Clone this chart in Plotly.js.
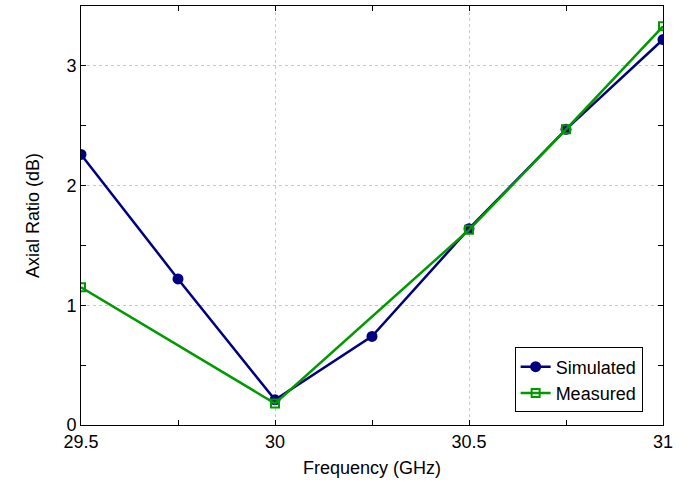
<!DOCTYPE html>
<html><head><meta charset="utf-8">
<script src="https://cdn.plot.ly/plotly-3.0.1.min.js"></script>
<style>html,body{margin:0;padding:0;background:#fff}#chart{width:691px;height:488px}</style>
</head><body><div id="chart"></div>
<script>
const simFreq = [29.5, 29.75, 30, 30.25, 30.5, 30.75, 31];
const simAR = [2.26, 1.22, 0.21, 0.74, 1.64, 2.47, 3.22];
const measFreq = [29.5, 30, 30.5, 30.75, 31];
const measAR = [1.15, 0.18, 1.63, 2.47, 3.33];

const font = {family: 'Liberation Sans, Arial, sans-serif', size: 18, color: '#000'};
const traces = [
  {x: simFreq, y: simAR, name: 'Simulated', mode: 'lines+markers', type: 'scatter',
   line: {color: '#000080', width: 2.5}, marker: {symbol: 'circle', size: 11, color: '#000080'}},
  {x: measFreq, y: measAR, name: 'Measured', mode: 'lines+markers', type: 'scatter',
   line: {color: '#009900', width: 2.5}, marker: {symbol: 'square-open', size: 8, color: '#009900', line: {width: 2, color: '#009900'}}}
];
const axisCommon = {showline: true, linecolor: '#000', linewidth: 1, mirror: 'ticks', ticks: 'inside', ticklen: 5, tickcolor: '#000',
  showgrid: true, gridcolor: '#c8c8c8', griddash: 'dot', gridwidth: 1, zeroline: false, tickfont: font};
const layout = {
  width: 691, height: 488, paper_bgcolor: '#fff', plot_bgcolor: '#fff',
  margin: {l: 81, r: 28, t: 6, b: 63},
  font: font,
  xaxis: Object.assign({}, axisCommon, {range: [29.5, 31], tickvals: [29.5, 30, 30.5, 31], ticktext: ['29.5', '30', '30.5', '31'],
    minor: {tickvals: [29.75, 30.25, 30.75], ticks: 'inside', ticklen: 5, tickcolor: '#000', showgrid: false},
    title: {text: 'Frequency (GHz)', font: font, standoff: 10}}),
  yaxis: Object.assign({}, axisCommon, {range: [0, 3.5], tickvals: [0, 1, 2, 3],
    minor: {tickvals: [0.5, 1.5, 2.5, 3.5], ticks: 'inside', ticklen: 5, tickcolor: '#000', showgrid: false},
    title: {text: 'Axial Ratio (dB)', font: font, standoff: 22}}),
  legend: {x: 0.965, y: 0.03, xanchor: 'right', yanchor: 'bottom', bordercolor: '#000', borderwidth: 1, bgcolor: '#fff', font: font, tracegroupgap: 0},
  showlegend: true
};
Plotly.newPlot('chart', traces, layout, {displayModeBar: false, staticPlot: true});
</script></body></html>
